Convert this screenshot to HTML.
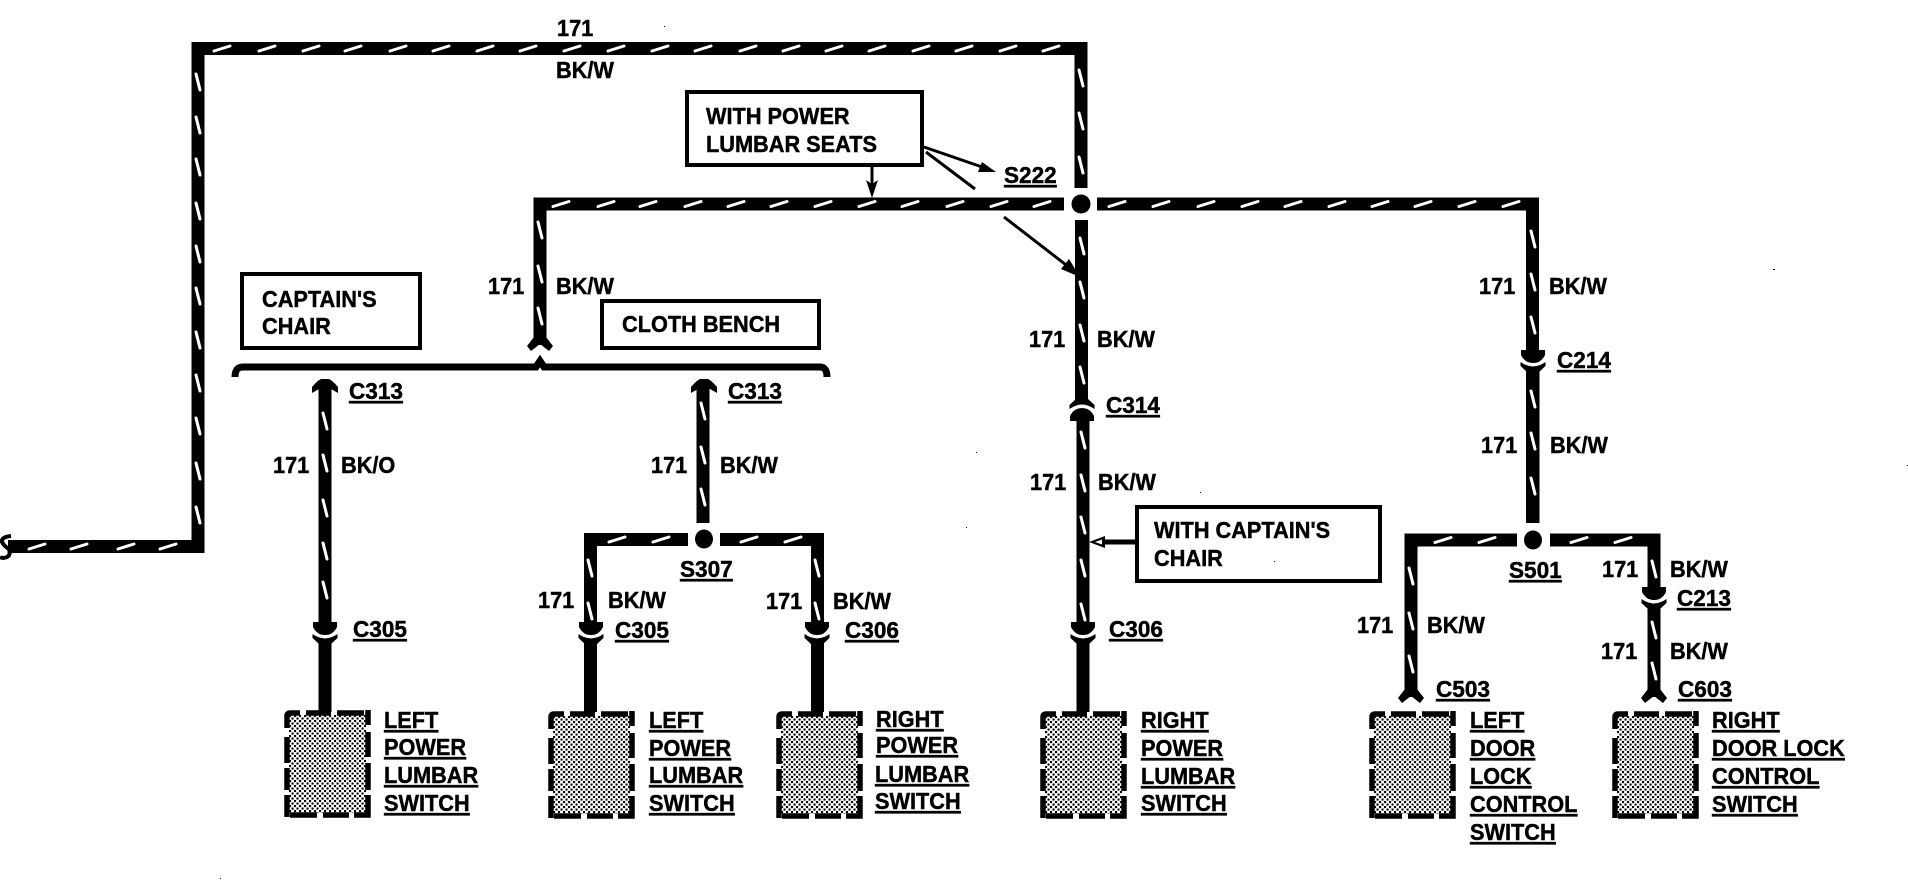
<!DOCTYPE html>
<html>
<head>
<meta charset="utf-8">
<title>Wiring diagram</title>
<style>
html,body{margin:0;padding:0;background:#fff;width:1908px;height:880px;overflow:hidden}
svg{display:block}
text{font-family:"Liberation Sans",Arial,sans-serif;font-weight:700;font-size:23.5px;fill:#000;stroke:#000;stroke-width:.45px}
.u{text-decoration:underline}
.w{fill:none;stroke:#000;stroke-width:13;stroke-linejoin:miter}
.t{fill:none;stroke:#fff;stroke-width:3;stroke-linecap:round}
.b{fill:#fff;stroke:#000;stroke-width:4}
.l{fill:none;stroke:#000;stroke-width:3}
</style>
</head>
<body>
<svg width="1908" height="880" viewBox="0 0 1908 880" xmlns="http://www.w3.org/2000/svg">
<defs>
<pattern id="dots" width="5" height="5" patternUnits="userSpaceOnUse">
<rect width="5" height="5" fill="#fff"/>
<rect x="0" y="0" width="2.1" height="2.1" fill="#000"/>
<rect x="2.5" y="2.5" width="2.1" height="2.1" fill="#000"/>
</pattern>
<g id="sw">
<rect x="5" y="5" width="77" height="98" fill="url(#dots)"/>
<path d="M3 18V6Q3 3 6 3H16M22 3H47M53 3H80M84 0V15M84 22V47M84 53V80M84 85V105Q84 105 82 105H70M65 105H39M33 105H6M3 107V85M3 80V58M3 53V27" fill="none" stroke="#000" stroke-width="5.5"/>
</g>
<g id="conn">
<path d="M-12 -1H12V4Q8 12 0 12Q-8 12 -12 4Z"/>
<path d="M-12 5Q-8 12 0 12Q8 12 12 5V11Q6 15.5 0 15.5Q-6 15.5 -12 11Z" fill="#fff"/>
<path d="M-12.5 11Q-6 15.5 0 15.5Q6 15.5 12.5 11V15L6 21H-6L-12.5 15Z"/>
</g>
<path id="fork" d="M-6 -8L-13 1L-9 6L0 -1L9 6L13 1L6 -8Z"/>
<path id="head" d="M-13 14V8Q-8 2 -4 0H4Q8 2 13 8V14L6 10H-6Z"/>
<g id="th"><path class="t" d="M0 2.5L16 -2.5"/></g>
<g id="tv"><path class="t" d="M-2 0L2 16"/></g>
</defs>

<!-- wires -->
<path class="w" d="M8 546.5H198V48.5H1081V188"/>
<path class="w" d="M540 345V204H1064"/>
<path class="w" d="M1097 204H1532.5V523"/>
<path class="w" d="M1081.5 220V400"/>
<path class="w" d="M1083 420V712"/>
<path class="w" d="M325 385V712"/>
<path class="w" d="M703 385V523"/>
<path class="w" d="M688 539.5H590.5V712"/>
<path class="w" d="M720 539.5H817.5V712"/>
<path class="w" d="M1533 360V523"/>
<path class="w" d="M1517 540H1411V697"/>
<path class="w" d="M1550 540H1654V697"/>

<!-- splice dots -->
<ellipse cx="1081" cy="204" rx="9.5" ry="9.5"/>
<ellipse cx="704" cy="539" rx="9" ry="9.5"/>
<ellipse cx="1533" cy="540" rx="9" ry="9.5"/>

<!-- left end -->
<path d="M11 536Q1 537 2 542Q4 546 9 549Q11 555 7 557Q3 559 0 557" fill="none" stroke="#000" stroke-width="4"/>

<!-- bracket -->
<path d="M235 377Q235 367 243 367H536L540 361L544 367H820Q827 367 827 377" fill="none" stroke="#000" stroke-width="7"/>

<!-- connectors -->
<use href="#conn" x="325" y="623"/>
<use href="#conn" x="591" y="623"/>
<use href="#conn" x="817" y="623"/>
<use href="#conn" x="1083" y="623"/>
<use href="#conn" x="1533" y="351"/>
<use href="#conn" x="1654" y="588"/>
<g transform="translate(1082 420) scale(1 -1)"><use href="#conn"/></g>
<use href="#fork" x="540" y="345"/>
<use href="#fork" x="1411" y="697"/>
<use href="#fork" x="1654" y="697"/>
<use href="#head" x="325" y="379"/>
<use href="#head" x="704" y="379"/>

<!-- wire ticks, horizontal -->
<use href="#th" x="214" y="48.5"/><use href="#th" x="259" y="48.5"/><use href="#th" x="303" y="48.5"/><use href="#th" x="345" y="48.5"/><use href="#th" x="390" y="48.5"/><use href="#th" x="433" y="48.5"/><use href="#th" x="477" y="48.5"/><use href="#th" x="520" y="48.5"/><use href="#th" x="564" y="48.5"/><use href="#th" x="608" y="48.5"/><use href="#th" x="652" y="48.5"/><use href="#th" x="695" y="48.5"/><use href="#th" x="740" y="48.5"/><use href="#th" x="783" y="48.5"/><use href="#th" x="826" y="48.5"/><use href="#th" x="869" y="48.5"/><use href="#th" x="913" y="48.5"/><use href="#th" x="956" y="48.5"/><use href="#th" x="1000" y="48.5"/><use href="#th" x="1043" y="48.5"/>
<use href="#th" x="29" y="546.5"/><use href="#th" x="71" y="546.5"/><use href="#th" x="118" y="546.5"/><use href="#th" x="160" y="546.5"/>
<use href="#th" x="553" y="204"/><use href="#th" x="598" y="204"/><use href="#th" x="640" y="204"/><use href="#th" x="685" y="204"/><use href="#th" x="728" y="204"/><use href="#th" x="771" y="204"/><use href="#th" x="815" y="204"/><use href="#th" x="859" y="204"/><use href="#th" x="902" y="204"/><use href="#th" x="947" y="204"/><use href="#th" x="991" y="204"/><use href="#th" x="1034" y="204"/><use href="#th" x="1109" y="204"/><use href="#th" x="1153" y="204"/><use href="#th" x="1198" y="204"/><use href="#th" x="1242" y="204"/><use href="#th" x="1285" y="204"/><use href="#th" x="1329" y="204"/><use href="#th" x="1372" y="204"/><use href="#th" x="1415" y="204"/><use href="#th" x="1459" y="204"/><use href="#th" x="1503" y="204"/>
<use href="#th" x="609" y="539.5"/><use href="#th" x="653" y="539.5"/><use href="#th" x="741" y="539.5"/><use href="#th" x="785" y="539.5"/>
<use href="#th" x="1435" y="540"/><use href="#th" x="1479" y="540"/><use href="#th" x="1571" y="540"/><use href="#th" x="1615" y="540"/>

<!-- wire ticks, vertical -->
<use href="#tv" x="198" y="74"/><use href="#tv" x="198" y="117"/><use href="#tv" x="198" y="159"/><use href="#tv" x="198" y="203"/><use href="#tv" x="198" y="246"/><use href="#tv" x="198" y="288"/><use href="#tv" x="198" y="332"/><use href="#tv" x="198" y="375"/><use href="#tv" x="198" y="418"/><use href="#tv" x="198" y="463"/><use href="#tv" x="198" y="507"/>
<use href="#tv" x="1081" y="70"/><use href="#tv" x="1081" y="113"/><use href="#tv" x="1081" y="157"/>
<use href="#tv" x="1082" y="238"/><use href="#tv" x="1082" y="282"/><use href="#tv" x="1082" y="325"/><use href="#tv" x="1082" y="367"/>
<use href="#tv" x="1083" y="432"/><use href="#tv" x="1083" y="475"/><use href="#tv" x="1083" y="517"/><use href="#tv" x="1083" y="560"/><use href="#tv" x="1083" y="604"/>
<use href="#tv" x="540" y="222"/><use href="#tv" x="540" y="266"/><use href="#tv" x="540" y="308"/>
<use href="#tv" x="325" y="413"/><use href="#tv" x="325" y="455"/><use href="#tv" x="325" y="500"/><use href="#tv" x="325" y="543"/><use href="#tv" x="325" y="582"/>
<use href="#tv" x="703" y="403"/><use href="#tv" x="703" y="447"/><use href="#tv" x="703" y="489"/>
<use href="#tv" x="590" y="560"/><use href="#tv" x="590" y="603"/>
<use href="#tv" x="817" y="560"/><use href="#tv" x="817" y="603"/>
<use href="#tv" x="1533" y="231"/><use href="#tv" x="1533" y="274"/><use href="#tv" x="1533" y="317"/><use href="#tv" x="1533" y="391"/><use href="#tv" x="1533" y="433"/><use href="#tv" x="1533" y="478"/>
<use href="#tv" x="1411" y="568"/><use href="#tv" x="1411" y="613"/><use href="#tv" x="1411" y="656"/>
<use href="#tv" x="1654" y="561"/><use href="#tv" x="1654" y="622"/><use href="#tv" x="1654" y="663"/>

<!-- note boxes -->
<rect class="b" x="242" y="274" width="178" height="74"/>
<rect class="b" x="602" y="301" width="217" height="47"/>
<rect class="b" x="687" y="92" width="235" height="73"/>
<rect class="b" x="1137" y="507" width="243" height="74"/>

<!-- pointers -->
<path class="l" d="M924 147L985 168"/><path d="M996 172L978 172L982 162Z"/>
<path class="l" d="M926 152L975 189"/>
<path class="l" d="M1004 217L1070 268"/><path d="M1080 277L1061 269L1069 259Z"/>
<path class="l" d="M872 167V185"/><path d="M872 198L866 180L872 184L878 180Z"/>
<path d="M1135 539.5V544.5H1104V539.5Z"/>
<path d="M1089 542L1105 536V548Z"/><path d="M1095 542L1102 539.5V544.5Z" fill="#fff"/>

<!-- switches -->
<use href="#sw" x="284" y="710"/>
<use href="#sw" x="548" y="711"/>
<use href="#sw" x="776" y="711"/>
<use href="#sw" x="1040" y="711"/>
<use href="#sw" x="1369" y="711"/>
<use href="#sw" x="1612" y="711"/>

<!-- labels -->
<text transform="translate(557 36) scale(.925 1)">171</text>
<text transform="translate(556 78) scale(.925 1)">BK/W</text>
<text transform="translate(488 294) scale(.925 1)">171</text>
<text transform="translate(556 294) scale(.925 1)">BK/W</text>
<text transform="translate(1029 347) scale(.925 1)">171</text>
<text transform="translate(1097 347) scale(.925 1)">BK/W</text>
<text transform="translate(1479 294) scale(.925 1)">171</text>
<text transform="translate(1549 294) scale(.925 1)">BK/W</text>
<text transform="translate(1481 453) scale(.925 1)">171</text>
<text transform="translate(1550 453) scale(.925 1)">BK/W</text>
<text transform="translate(273 473) scale(.925 1)">171</text>
<text transform="translate(341 473) scale(.925 1)">BK/O</text>
<text transform="translate(651 473) scale(.925 1)">171</text>
<text transform="translate(720 473) scale(.925 1)">BK/W</text>
<text transform="translate(538 608) scale(.925 1)">171</text>
<text transform="translate(608 608) scale(.925 1)">BK/W</text>
<text transform="translate(766 609) scale(.925 1)">171</text>
<text transform="translate(833 609) scale(.925 1)">BK/W</text>
<text transform="translate(1030 490) scale(.925 1)">171</text>
<text transform="translate(1098 490) scale(.925 1)">BK/W</text>
<text transform="translate(1602 577) scale(.925 1)">171</text>
<text transform="translate(1670 577) scale(.925 1)">BK/W</text>
<text transform="translate(1357 633) scale(.925 1)">171</text>
<text transform="translate(1427 633) scale(.925 1)">BK/W</text>
<text transform="translate(1601 659) scale(.925 1)">171</text>
<text transform="translate(1670 659) scale(.925 1)">BK/W</text>

<text class="u" transform="translate(349 399) scale(.96 1)">C313</text>
<text class="u" transform="translate(728 399) scale(.96 1)">C313</text>
<text class="u" transform="translate(1004 183) scale(.96 1)">S222</text>
<text class="u" transform="translate(1106 413) scale(.96 1)">C314</text>
<text class="u" transform="translate(1557 368) scale(.96 1)">C214</text>
<text class="u" transform="translate(353 637) scale(.96 1)">C305</text>
<text class="u" transform="translate(615 638) scale(.96 1)">C305</text>
<text class="u" transform="translate(845 638) scale(.96 1)">C306</text>
<text class="u" transform="translate(1109 637) scale(.96 1)">C306</text>
<text class="u" transform="translate(680 577) scale(.96 1)">S307</text>
<text class="u" transform="translate(1509 578) scale(.96 1)">S501</text>
<text class="u" transform="translate(1677 606) scale(.96 1)">C213</text>
<text class="u" transform="translate(1436 697) scale(.96 1)">C503</text>
<text class="u" transform="translate(1678 697) scale(.96 1)">C603</text>

<text transform="translate(262 307) scale(.925 1)">CAPTAIN'S</text>
<text transform="translate(262 334) scale(.925 1)">CHAIR</text>
<text transform="translate(622 332) scale(.925 1)">CLOTH BENCH</text>
<text transform="translate(706 124) scale(.925 1)">WITH POWER</text>
<text transform="translate(706 152) scale(.925 1)">LUMBAR SEATS</text>
<text transform="translate(1154 538) scale(.925 1)">WITH CAPTAIN'S</text>
<text transform="translate(1154 566) scale(.925 1)">CHAIR</text>

<text class="u" transform="translate(384 728) scale(.925 1)">LEFT</text>
<text class="u" transform="translate(384 755) scale(.925 1)">POWER</text>
<text class="u" transform="translate(384 783) scale(.925 1)">LUMBAR</text>
<text class="u" transform="translate(384 811) scale(.925 1)">SWITCH</text>

<text class="u" transform="translate(649 728) scale(.925 1)">LEFT</text>
<text class="u" transform="translate(649 756) scale(.925 1)">POWER</text>
<text class="u" transform="translate(649 783) scale(.925 1)">LUMBAR</text>
<text class="u" transform="translate(649 811) scale(.925 1)">SWITCH</text>

<text class="u" transform="translate(876 727) scale(.925 1)">RIGHT</text>
<text class="u" transform="translate(876 753) scale(.925 1)">POWER</text>
<text class="u" transform="translate(875 782) scale(.925 1)">LUMBAR</text>
<text class="u" transform="translate(875 809) scale(.925 1)">SWITCH</text>

<text class="u" transform="translate(1141 728) scale(.925 1)">RIGHT</text>
<text class="u" transform="translate(1141 756) scale(.925 1)">POWER</text>
<text class="u" transform="translate(1141 784) scale(.925 1)">LUMBAR</text>
<text class="u" transform="translate(1141 811) scale(.925 1)">SWITCH</text>

<text class="u" transform="translate(1470 728) scale(.925 1)">LEFT</text>
<text class="u" transform="translate(1470 756) scale(.925 1)">DOOR</text>
<text class="u" transform="translate(1470 784) scale(.925 1)">LOCK</text>
<text class="u" transform="translate(1470 812) scale(.925 1)">CONTROL</text>
<text class="u" transform="translate(1470 840) scale(.925 1)">SWITCH</text>

<text class="u" transform="translate(1712 728) scale(.925 1)">RIGHT</text>
<text class="u" transform="translate(1712 756) scale(.925 1)">DOOR LOCK</text>
<text class="u" transform="translate(1712 784) scale(.925 1)">CONTROL</text>
<text class="u" transform="translate(1712 812) scale(.925 1)">SWITCH</text>

<!-- specks -->
<g>
<rect x="664" y="26" width="1" height="1"/><rect x="1773" y="269" width="2" height="1"/><rect x="220" y="878" width="1" height="1"/><rect x="976" y="452" width="1" height="1"/><rect x="966" y="527" width="1" height="1"/><rect x="1200" y="492" width="1" height="1"/><rect x="1274" y="561" width="1" height="1"/><rect x="1907" y="465" width="1" height="1"/>
</g>
</svg>
</body>
</html>
